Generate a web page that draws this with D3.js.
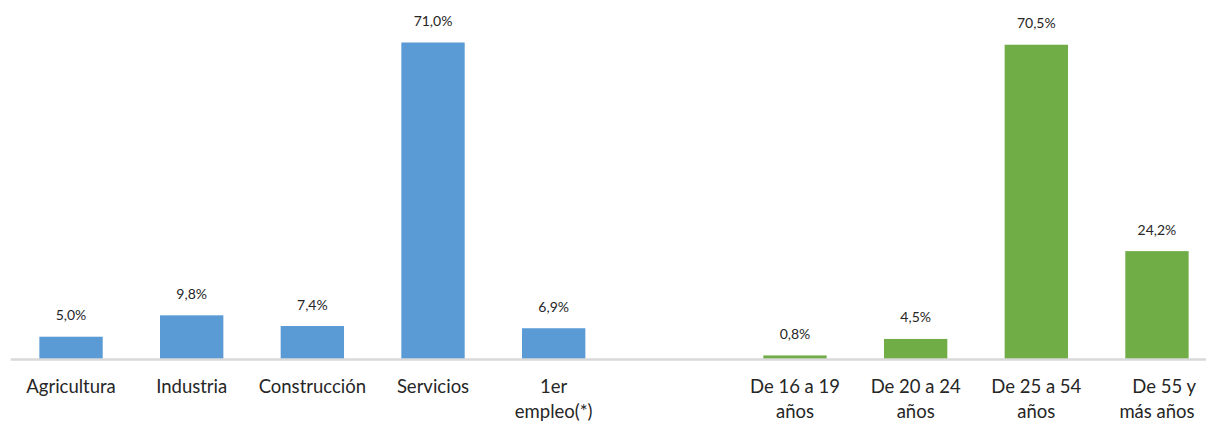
<!DOCTYPE html>
<html><head><meta charset="utf-8">
<script src="https://cdn.jsdelivr.net/npm/d3@7"></script>
<style>body{margin:0;background:#fff}svg{display:block}text{font-family:Lato,"Open Sans",sans-serif;fill:#262626}</style>
</head><body><svg id="c" width="1206" height="423"></svg>
<script>
const categories = ["Agricultura","Industria","Construcción","Servicios","1er empleo(*)","","De 16 a 19 años","De 20 a 24 años","De 25 a 54 años","De 55 y más años"];
const labelLines = [["Agricultura"],["Industria"],["Construcción"],["Servicios"],["1er","empleo(*)"],[""],["De 16 a 19","años"],["De 20 a 24","años"],["De 25 a 54","años"],["\u00a0\u00a0\u00a0De 55 y","más años"]];
const values = [5.0, 9.8, 7.4, 71.0, 6.9, null, 0.8, 4.5, 70.5, 24.2];
const groups = ["sector","sector","sector","sector","sector","","edad","edad","edad","edad"];
const colors = {sector:"#5b9bd5", edad:"#70ad47"};

const svg = d3.select("#c");
const baseY = 359, topY = 42.5;
const x = d3.scaleBand().domain(categories.map((c,i)=>i)).range([10.7,1217.3]).paddingInner(0.475).paddingOuter(0.2375);
const y = d3.scaleLinear().domain([0,71]).range([baseY, topY]);
const data = values.map((v,i)=>({i,v,g:groups[i]})).filter(d=>d.v!=null);

svg.selectAll("rect.bar").data(data).join("rect").attr("class","bar")
  .attr("x",d=>x(d.i)).attr("width",x.bandwidth())
  .attr("y",d=>y(d.v)).attr("height",d=>baseY-y(d.v))
  .attr("fill",d=>colors[d.g]);

svg.append("line").attr("x1",10.7).attr("x2",1206).attr("y1",baseY+0.5).attr("y2",baseY+0.5)
  .attr("stroke","#d9d9d9").attr("stroke-width",2.5);

svg.selectAll("text.val").data(data).join("text").attr("class","val")
  .attr("x",d=>x(d.i)+x.bandwidth()/2).attr("y",d=>y(d.v)-16.5)
  .attr("text-anchor","middle").style("font-size","14px")
  .text(d=>d3.format(".1f")(d.v).replace(".",",")+"%");

const lab = svg.selectAll("text.cat").data(labelLines.map((l,i)=>({l,i}))).join("text").attr("class","cat")
  .attr("text-anchor","middle").style("font-size","18.5px")
  .attr("transform",d=>`translate(${x(d.i)+x.bandwidth()/2},393)`);
lab.selectAll("tspan").data(d=>d.l).join("tspan").attr("x",0).attr("dy",(d,j)=>j?25:0).text(d=>d);
</script></body></html>
